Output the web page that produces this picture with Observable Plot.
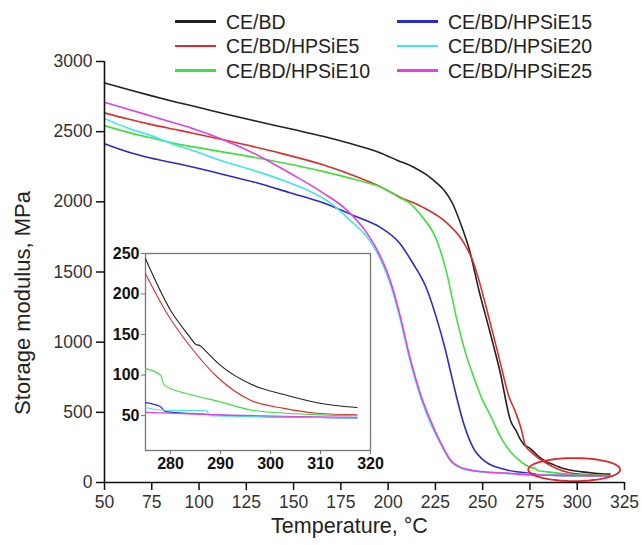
<!DOCTYPE html>
<html><head><meta charset="utf-8">
<script src="https://cdn.jsdelivr.net/npm/d3@7"></script>
<script src="https://cdn.jsdelivr.net/npm/@observablehq/plot@0.6"></script>
<style>
body{margin:0;background:#fff;}
#wrap{position:relative;width:642px;height:545px;font-family:"Liberation Sans",Arial,sans-serif;}
#main,#inset,#legend{position:absolute;left:0;top:0;}
#inset{left:100px;top:243px;}
.lg-line{position:absolute;width:41px;height:2.4px;}
.lg-text{position:absolute;font-size:19.5px;color:#222;line-height:20px;white-space:nowrap;}
</style></head><body>
<div id="wrap"><div id="main"></div><div id="inset"></div><div id="legend"></div></div>
<script>
// ---- data ----
const seriesNames = ["CE/BD", "CE/BD/HPSiE5", "CE/BD/HPSiE10", "CE/BD/HPSiE15", "CE/BD/HPSiE20", "CE/BD/HPSiE25"];
const seriesColors = ["#222222", "#e32b2b", "#3ee03e", "#2a2ad0", "#3fe6ef", "#e63ee6"];

// [temperature °C, storage modulus MPa]
const ceBD = [[50,2848],[62.5,2800],[75,2755],[87.5,2712],[100,2672],[115,2622],[130.5,2574],[150,2515],[165.5,2467],[180,2415],[195.6,2350],[205,2295],[213,2250],[220,2195],[225.6,2135],[230,2075],[234,1990],[239,1820],[243,1657],[248,1370],[253.6,1085],[259,800],[265,431],[267.6,371],[270,305],[272,268],[275,243.5],[280,180],[284,146],[285,138],[286,136],[287,130],[290,112],[296,89],[302.7,76],[309.3,66],[317.3,60]];
const hpsie5 = [[50,2634],[62.5,2590],[75,2550],[87.5,2515],[95.4,2493],[112.8,2443],[139,2360],[165.5,2264],[183,2181],[195.6,2110],[206,2035],[218,1964],[231,1850],[239,1730],[244.6,1585],[248,1442],[253.6,1157],[259,870],[264,607],[267,514],[270.6,371],[272.6,262],[275,225],[279.3,176],[284,135],[289.3,98],[296,69],[302.7,59],[309.3,53],[317.3,51]];
const hpsie10 = [[50,2543],[62.5,2495],[75,2455],[87.5,2415],[95.4,2395],[130.5,2314],[165.5,2217],[183,2157],[195.6,2107],[200.8,2074],[206,2030],[211.4,1990],[218,1893],[225.6,1730],[231,1492],[236,1180],[241,920],[245,760],[250,585],[253.6,490],[260.5,300],[265,215],[269.4,157],[275,108],[278,100],[278.7,88],[284,76],[290,67],[296,57],[303,53],[310,51],[317.3,50]];
const hpsie15 = [[50,2414],[62.5,2355],[75,2310],[87.5,2275],[95.4,2252],[112.8,2195],[130.5,2136],[148,2065],[165.5,1993],[183,1895],[195.6,1820],[206,1707],[213,1564],[220,1393],[227,1107],[230,960],[233,790],[236,620],[239.5,440],[244.8,252],[251.8,145],[262.4,91],[275,66],[278,61],[279,55],[286,52],[296,49],[307,48],[317.3,47]];
const hpsie20 = [[50,2593],[62.5,2525],[75,2470],[87.5,2405],[95.4,2371],[112.8,2290],[130.5,2217],[145,2150],[157,2086],[170.8,1979],[179.7,1871],[190,1729],[195.6,1600],[201,1420],[206,1185],[211,900],[217.6,590],[222.5,420],[227.2,290],[230.7,200],[233,152],[236,118],[240,95],[244.8,82],[252,72],[262.4,64],[275,60],[278,57],[287.3,56],[287.7,50],[296,49],[307,48],[317.3,47]];
const hpsie25 = [[50,2709],[62.5,2660],[75,2610],[87.5,2560],[95.4,2528],[112.8,2443],[130.5,2336],[148,2205],[165.5,2064],[178,1943],[188.7,1779],[195.6,1620],[201,1443],[206,1207],[211,920],[217.6,610],[222.5,440],[227.2,300],[230.7,210],[233,160],[236,125],[240,100],[244.8,86],[252,75],[262.4,67],[275,54],[290,51],[305,49],[317.3,48]];

const xTicks = [50, 75, 100, 125, 150, 175, 200, 225, 250, 275, 300, 325];
const yTicks = [0, 500, 1000, 1500, 2000, 2500, 3000];
const insetXTicks = [280, 290, 300, 310, 320];
const insetYTicks = [50, 100, 150, 200, 250];
const insetDomainX = [275, 320];
const insetDomainY = [7, 250];
// highlight ellipse: centre and radii in data units
const ellipseSpec = {cx: 298.4, cy: 92, rx: 24.3, ry: 82};

// ---- build ----
const seriesData = [ceBD, hpsie5, hpsie10, hpsie15, hpsie20, hpsie25];
const rows = seriesData.flatMap((pts, i) => pts.map(([T, M]) => ({series: seriesNames[i], T, M})));
const ellipsePts = d3.range(0, 361, 4).map(a => ({
  T: ellipseSpec.cx + ellipseSpec.rx * Math.cos(a * Math.PI / 180),
  M: ellipseSpec.cy + ellipseSpec.ry * Math.sin(a * Math.PI / 180)
}));
const font = "'Liberation Sans', Arial, sans-serif";
const plain = d => String(d);

const main = Plot.plot({
  width: 642, height: 545,
  marginLeft: 104, marginRight: 18, marginTop: 61, marginBottom: 63,
  style: {fontFamily: font, background: "white", overflow: "visible"},
  x: {domain: [50, 325]},
  y: {domain: [0, 3000]},
  color: {domain: seriesNames, range: seriesColors},
  marks: [
    Plot.line(rows, {x: "T", y: "M", z: "series", stroke: "series", strokeWidth: 1.6, curve: "monotone-x"}),
    Plot.line(ellipsePts, {x: "T", y: "M", stroke: "#e3262b", strokeWidth: 1.8}),
    Plot.ruleY([0], {stroke: "#111", strokeWidth: 1.6}),
    Plot.ruleX([50], {stroke: "#111", strokeWidth: 1.6}),
    Plot.axisX({ticks: xTicks, tickFormat: plain, tickSize: 8, tickPadding: 5, fontSize: 17.5, fill: "#333", stroke: "#111", strokeWidth: 1.5, label: null}),
    Plot.axisY({ticks: yTicks, tickFormat: plain, tickSize: 8, tickPadding: 4, fontSize: 17.5, fill: "#333", stroke: "#111", strokeWidth: 1.5, label: null}),
    Plot.text(["Temperature, °C"], {frameAnchor: "bottom", dx: -15, dy: 50, fontSize: 21.5, fill: "#222"}),
    Plot.text(["Storage modulus, MPa"], {frameAnchor: "left", textAnchor: "middle", rotate: -90, dx: -82, dy: 31, fontSize: 22, fill: "#222"})
  ]
});
document.getElementById("main").appendChild(main);

const inset = Plot.plot({
  width: 280, height: 237,
  marginLeft: 45, marginRight: 10, marginTop: 10, marginBottom: 30,
  style: {fontFamily: font, background: "transparent", overflow: "visible"},
  x: {domain: insetDomainX},
  y: {domain: insetDomainY},
  color: {domain: seriesNames, range: seriesColors},
  marks: [
    Plot.frame({fill: "white", stroke: "#777", strokeWidth: 1.3}),
    Plot.line(rows.filter(d => d.T >= insetDomainX[0]), {x: "T", y: "M", z: "series", stroke: "series", strokeWidth: 1.1, curve: "monotone-x"}),
    Plot.axisX({ticks: insetXTicks, tickFormat: plain, tickSize: 4, tickPadding: 3, fontSize: 16, fontWeight: "bold", fill: "#111", stroke: "#777", label: null}),
    Plot.axisY({ticks: insetYTicks, tickFormat: plain, tickSize: 4, tickPadding: 2, fontSize: 16, fontWeight: "bold", fill: "#111", stroke: "#777", label: null})
  ]
});
document.getElementById("inset").appendChild(inset);

// legend (two columns of three)
const legend = d3.select("#legend");
const colLineX = [175, 397], colTextX = [226, 448], rowY = [21.5, 46, 70.5];
seriesNames.forEach((name, i) => {
  const c = Math.floor(i / 3), r = i % 3;
  legend.append("div").attr("class", "lg-line")
    .style("left", colLineX[c] + "px").style("top", (rowY[r] - 1.2) + "px")
    .style("background", seriesColors[i]);
  legend.append("div").attr("class", "lg-text")
    .style("left", colTextX[c] + "px").style("top", (rowY[r] - 10) + "px")
    .text(name);
});
</script>
</body></html>
